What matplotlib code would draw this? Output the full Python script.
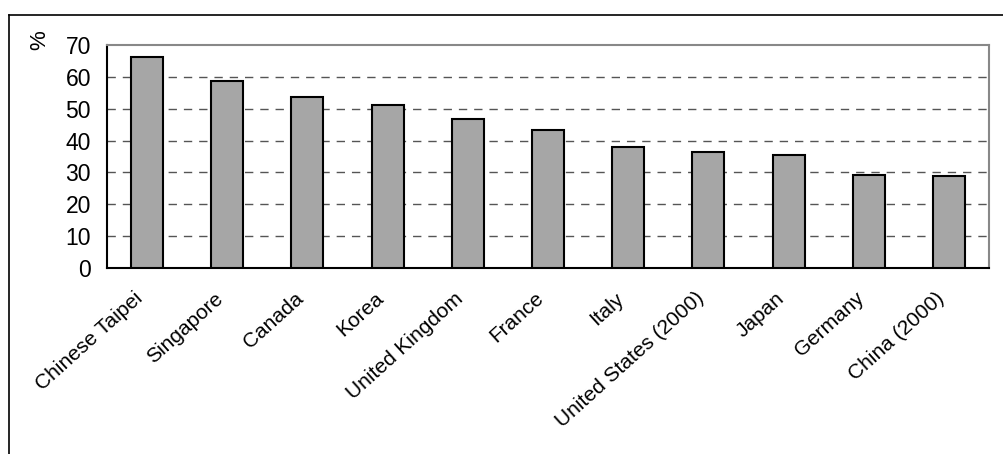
import matplotlib
matplotlib.use('Agg')
import matplotlib.pyplot as plt
import matplotlib.transforms as mtransforms
from matplotlib.lines import Line2D

# data
countries = ['Chinese Taipei', 'Singapore', 'Canada', 'Korea', 'United Kingdom', 'France',
             'Italy', 'United States (2000)', 'Japan', 'Germany', 'China (2000)']
values = [66.1, 58.8, 53.7, 51.3, 46.9, 43.2, 38.1, 36.3, 35.6, 29.3, 28.9]
yticks = [0, 10, 20, 30, 40, 50, 60, 70]

plt.rcParams['font.family'] = ['Liberation Sans', 'DejaVu Sans']

W, H = 1004, 454
fig = plt.figure(figsize=(W / 100, H / 100), dpi=100)
ax = fig.add_axes([107 / W, 1 - 268 / H, (989 - 107) / W, (268 - 45) / H])

x = range(len(countries))
ax.bar(x, values, width=0.4, color='#a6a6a6', edgecolor='black', linewidth=1.5, zorder=3)

ax.set_xlim(-0.5, len(countries) - 0.5)
ax.set_ylim(0, 70)
ax.set_yticks(yticks)
ax.set_yticklabels([str(t) for t in yticks], fontsize=16.5)
ax.set_xticks(list(x))
ax.set_xticklabels(countries, fontsize=15, rotation=42, ha='right', va='center',
                   rotation_mode='anchor')
ax.tick_params(axis='both', length=0)
ax.tick_params(axis='y', pad=11.5)
ax.tick_params(axis='x', pad=20)

# nudge the rotated labels a bit to the left, as in the original
shift = mtransforms.ScaledTranslation(-7 / 100, 0, fig.dpi_scale_trans)
for lab in ax.get_xticklabels():
    lab.set_transform(lab.get_transform() + shift)

for t in yticks[1:-1]:
    ax.axhline(t, color='#555555', linestyle=(0, (6, 5)), linewidth=1, zorder=1)

ax.spines['left'].set_color('black')
ax.spines['bottom'].set_color('black')
ax.spines['top'].set_color('#888888')
ax.spines['right'].set_color('#888888')
for s in ax.spines.values():
    s.set_linewidth(1.5)

fig.text(40 / W, 1 - 40 / H, '%', fontsize=16, rotation=90, ha='center', va='center')

# outer frame
fig.add_artist(Line2D([9 / W, 9 / W], [0, 1 - 15 / H], color='black', linewidth=1.2, transform=fig.transFigure))
fig.add_artist(Line2D([9 / W, 1], [1 - 15 / H, 1 - 15 / H], color='black', linewidth=1.2, transform=fig.transFigure))

fig.savefig('out.png', dpi=100)
